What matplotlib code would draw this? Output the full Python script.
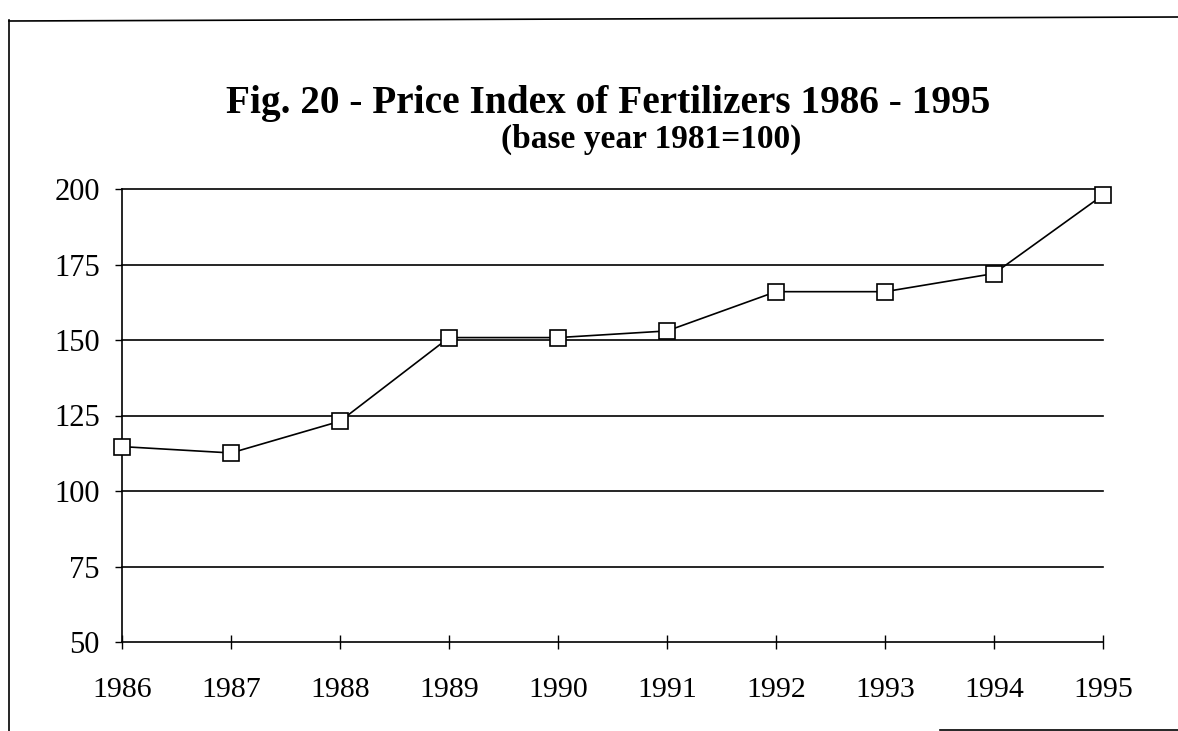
import matplotlib
matplotlib.use("Agg")
import matplotlib.pyplot as plt
from matplotlib.lines import Line2D

years = [1986, 1987, 1988, 1989, 1990, 1991, 1992, 1993, 1994, 1995]
price_index = [114.7, 112.6, 123.1, 150.8, 150.8, 153.0, 166.0, 166.0, 172.0, 198.0]
y_ticks = [50, 75, 100, 125, 150, 175, 200]
title = "Fig. 20 - Price Index of Fertilizers 1986 - 1995"
subtitle = "(base year 1981=100)"

plt.rcParams['font.family'] = ['Liberation Serif', 'DejaVu Serif']

fig = plt.figure(figsize=(11.78, 7.31), dpi=100)
ax = fig.add_axes([122/1178, 1-642/731, (1103-122)/1178, (642-189)/731])

ax.plot(years, price_index, color='black', lw=1.2, marker='s', markersize=11,
        markerfacecolor='white', markeredgecolor='black', markeredgewidth=1.2,
        clip_on=False, zorder=5)

ax.set_xlim(1986, 1995)
ax.set_ylim(50, 200)
ax.set_xticks(years)
ax.set_xticklabels([str(y) for y in years], fontsize=21.5)
ax.set_yticks(y_ticks)
ax.set_yticklabels([str(v) for v in y_ticks], fontsize=22)

for v in y_ticks[1:]:
    ax.axhline(v, color='black', lw=1.2, zorder=1, clip_on=False)

ax.spines['right'].set_visible(False)
ax.spines['top'].set_visible(False)
ax.spines['left'].set_linewidth(1.2)
ax.spines['bottom'].set_linewidth(1.2)
ax.tick_params(axis='x', direction='inout', length=10, width=1.0, pad=20)
ax.tick_params(axis='y', direction='out', length=5, width=1.0, pad=11)

fig.text(608/1178, 1-103/731, title, ha='center', va='center',
         fontsize=28.3, fontweight='bold')
fig.text(651/1178, 1-139/731, subtitle, ha='center', va='center',
         fontsize=24, fontweight='bold')

# outer frame fragments
fig.add_artist(Line2D([9/1178, 9/1178], [0, 1-20/731], transform=fig.transFigure,
                      color='black', lw=1.2))
fig.add_artist(Line2D([9/1178, 1], [1-21/731, 1-17/731], transform=fig.transFigure,
                      color='black', lw=1.2))
fig.add_artist(Line2D([940/1178, 1], [1-730/731, 1-730/731], transform=fig.transFigure,
                      color='black', lw=1.2))

fig.savefig("out.png", dpi=100)
